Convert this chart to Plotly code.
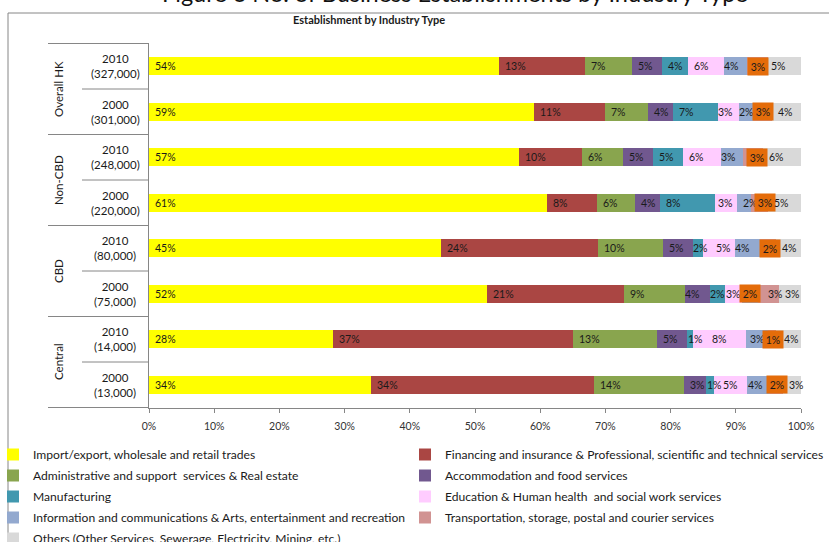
import plotly.graph_objects as go

# ---------------- data ----------------
groups = ["Overall HK", "Overall HK", "Non-CBD", "Non-CBD", "CBD", "CBD", "Central", "Central"]
years = ["2010", "2000", "2010", "2000", "2010", "2000", "2010", "2000"]
totals = ["(327,000)", "(301,000)", "(248,000)", "(220,000)", "(80,000)", "(75,000)", "(14,000)", "(13,000)"]

series_names = [
    "Import/export, wholesale and retail trades",
    "Financing and insurance & Professional, scientific and technical services",
    "Administrative and support  services & Real estate",
    "Accommodation and food services",
    "Manufacturing",
    "Education & Human health  and social work services",
    "Information and communications & Arts, entertainment and recreation",
    "Transportation, storage, postal and courier services",
    "Others (Other Services, Sewerage, Electricity, Mining, etc.)",
]
series_colors = ["#FFFF00", "#AA4643", "#89A54E", "#71588F", "#4198AF",
                 "#FFCCFF", "#93A9CF", "#D19392", "#D9D9D9"]

import_export = [53.7, 59.0, 56.8, 61.1, 44.8, 51.8, 28.2, 34.1]
financing = [13.2, 10.9, 9.6, 7.6, 24.1, 21.0, 36.9, 34.2]
admin_real_estate = [7.2, 6.6, 6.3, 5.8, 9.9, 9.4, 12.8, 13.7]
accommodation = [4.6, 3.9, 4.6, 3.9, 4.6, 3.8, 4.6, 3.4]
manufacturing = [3.9, 6.8, 4.6, 8.4, 1.6, 2.4, 1.0, 1.2]
education_health = [5.6, 3.3, 5.9, 3.4, 4.9, 2.6, 8.1, 5.1]
information_arts = [3.5, 2.1, 3.3, 2.2, 3.8, 2.4, 3.3, 3.6]
transportation = [3.3, 3.0, 3.1, 2.6, 2.4, 3.2, 1.3, 2.0]
others = [5.0, 4.4, 5.8, 5.0, 3.9, 3.4, 3.8, 2.7]

series_values = [import_export, financing, admin_real_estate, accommodation, manufacturing,
                 education_health, information_arts, transportation, others]

# which series' data label is shown on an orange box, per row
orange_label_series = [7, 7, 7, 7, 7, 6, 7, 7]
# legend columns
legend_column = [1, 2, 1, 2, 1, 2, 1, 2, 1]

chart_title = "Establishment by Industry Type"
figure_title = "Figure 6 No. of Business Establishments by Industry Type"

# ---------------- layout helpers ----------------
W, H = 829, 542
ML, MR, MT, MB = 149, 28, 43, 134
PW, PH = W - ML - MR, H - MT - MB


def xp(px):
    return (px - ML) / PW


def yp(py):
    return (H - MB - py) / PH


FONT = "Lato"
TXT = "#1a1a1a"
AXC = "#868686"
LABEL_PAD = 4
# hand-placed label nudges (px) as in the original chart: (row, series) -> extra shift
label_nudge = {
    (0, 6): -6, (0, 8): -3,
    (1, 5): -6, (1, 6): -6,
    (2, 6): -6,
    (3, 5): -3,
    (4, 4): -6, (4, 5): 7, (4, 6): -6,
    (5, 3): -6, (5, 4): -6, (5, 5): -5, (5, 7): 4,
    (6, 4): -5, (6, 5): 13, (6, 6): -2, (6, 8): 2,
    (7, 4): -5, (7, 5): 3, (7, 6): -5,
}
box_nudge = {2: 4, 3: 5, 4: 2, 6: 1}

cats = [f"{g} {y}" for g, y in zip(groups, years)]

fig = go.Figure()
for i, (name, vals, col) in enumerate(zip(series_names, series_values, series_colors)):
    fig.add_trace(go.Bar(
        y=cats, x=vals, orientation="h", name=name,
        marker=dict(color=col, line=dict(width=0)),
        legend="legend" if legend_column[i] == 1 else "legend2",
        legendgroup=f"g{i}",
        hoverinfo="name+x",
    ))

annotations = []
shapes = []

# data labels (inside base)
for r in range(len(cats)):
    start = 0.0
    for s, vals in enumerate(series_values):
        v = vals[r]
        label = f"{int(v + 0.5)}%"
        if orange_label_series[r] == s:
            annotations.append(dict(
                x=start + v / 2, y=r, xref="x", yref="y", text=label, showarrow=False,
                xanchor="center", yanchor="middle", bgcolor="#E46C0A",
                xshift=box_nudge.get(r, 0),
                width=18, height=15, borderpad=1, align="center",
                font=dict(family=FONT, size=10.5, color=TXT)))
        else:
            annotations.append(dict(
                x=start, y=r, xref="x", yref="y", text=label, showarrow=False,
                xanchor="left", yanchor="middle",
                xshift=LABEL_PAD + label_nudge.get((r, s), 0),
                font=dict(family=FONT, size=10.5, color=TXT)))
        start += v

# category labels (year + total)
for r in range(len(cats)):
    annotations.append(dict(
        x=xp(115), y=r, xref="paper", yref="y", text=f"{years[r]}<br>{totals[r]}",
        showarrow=False, xanchor="center", yanchor="middle", align="center",
        font=dict(family=FONT, size=11.5, color=TXT)))

# group labels (rotated)
seen = []
for g in groups:
    if g not in seen:
        seen.append(g)
for g in seen:
    idx = [i for i, gg in enumerate(groups) if gg == g]
    mid = (idx[0] + idx[-1]) / 2
    annotations.append(dict(
        x=xp(58), y=mid, xref="paper", yref="y", text=g, textangle=-90,
        showarrow=False, xanchor="center", yanchor="middle",
        font=dict(family=FONT, size=11.5, color=TXT)))
    for b in (idx[0] - 0.5, idx[-1] + 0.5):
        shapes.append(dict(type="line", xref="paper", yref="y", x0=xp(48), x1=0,
                           y0=b, y1=b, line=dict(color=AXC, width=1)))
    for k in idx[:-1]:
        shapes.append(dict(type="line", xref="paper", yref="y", x0=xp(82), x1=0,
                           y0=k + 0.5, y1=k + 0.5, line=dict(color=AXC, width=1)))

# chart outer border
shapes.append(dict(type="rect", xref="paper", yref="paper", x0=xp(8), x1=xp(845),
                   y0=yp(560), y1=yp(13), line=dict(color=AXC, width=1),
                   fillcolor="rgba(0,0,0,0)", layer="below"))

# titles
annotations.append(dict(x=xp(369), y=yp(19), xref="paper", yref="paper", text=f"<b>{chart_title}</b>",
                        showarrow=False, xanchor="center", yanchor="middle",
                        font=dict(family=FONT, size=11, color=TXT)))
annotations.append(dict(x=xp(455), y=yp(-7), xref="paper", yref="paper", text=figure_title,
                        showarrow=False, xanchor="center", yanchor="middle",
                        font=dict(family=FONT, size=23.5, color="#111")))

fig.update_layout(
    width=W, height=H,
    margin=dict(l=ML, r=MR, t=MT, b=MB, autoexpand=False),
    barmode="stack", bargap=0.605,
    plot_bgcolor="white", paper_bgcolor="white",
    font=dict(family=FONT, color=TXT),
    xaxis=dict(range=[0, 100], dtick=10, ticksuffix="%", showgrid=False, zeroline=False,
               showline=True, linecolor=AXC, linewidth=1, ticks="outside", ticklen=4,
               tickcolor=AXC, ticklabelstandoff=4,
               tickfont=dict(family=FONT, size=10.5, color="#333")),
    yaxis=dict(type="category", categoryorder="array", categoryarray=cats,
               autorange="reversed", showticklabels=False, showgrid=False,
               showline=True, linecolor=AXC, linewidth=1, ticks=""),
    legend=dict(x=xp(-7), xanchor="left", y=yp(440), yanchor="top", orientation="v",
                tracegroupgap=2, bgcolor="rgba(0,0,0,0)", borderwidth=0,
                font=dict(family=FONT, size=12.1, color=TXT)),
    legend2=dict(x=xp(405), xanchor="left", y=yp(440), yanchor="top", orientation="v",
                 tracegroupgap=2, bgcolor="rgba(0,0,0,0)", borderwidth=0,
                 font=dict(family=FONT, size=12.1, color=TXT)),
    annotations=annotations,
    shapes=shapes,
    showlegend=True,
)

fig.write_html("out.html")
